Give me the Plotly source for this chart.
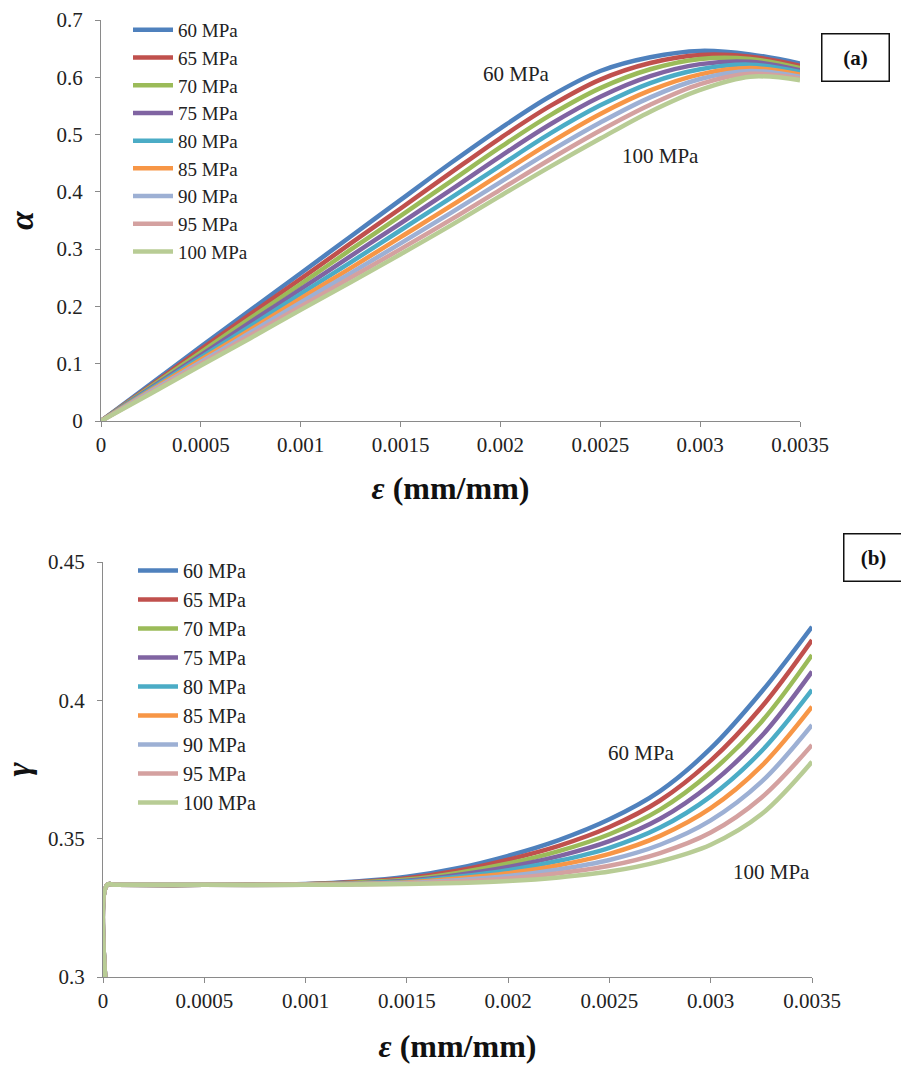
import plotly.graph_objects as go

series_names = ["60 MPa", "65 MPa", "70 MPa", "75 MPa", "80 MPa",
                "85 MPa", "90 MPa", "95 MPa", "100 MPa"]
colors = ["#4F81BD", "#C0504D", "#9BBB59", "#8064A2", "#4BACC6",
          "#F79646", "#9DB0D4", "#D4A1A0", "#B8CC95"]

# (a) alpha vs strain
eps_a = [0, 0.00025, 0.0005, 0.00075, 0.001, 0.00125, 0.0015, 0.00175,
         0.002, 0.00225, 0.0025, 0.00275, 0.003, 0.00325, 0.0035]
alpha_60 = [0, 0.065, 0.130, 0.194, 0.258, 0.322, 0.386, 0.450, 0.511, 0.567, 0.611, 0.635, 0.646, 0.640, 0.624]
alpha_65 = [0, 0.062, 0.125, 0.187, 0.248, 0.310, 0.371, 0.433, 0.494, 0.550, 0.596, 0.625, 0.639, 0.636, 0.620]
alpha_70 = [0, 0.060, 0.120, 0.180, 0.239, 0.299, 0.358, 0.418, 0.478, 0.534, 0.581, 0.614, 0.632, 0.632, 0.616]
alpha_75 = [0, 0.058, 0.115, 0.173, 0.230, 0.288, 0.345, 0.403, 0.462, 0.518, 0.566, 0.602, 0.623, 0.627, 0.612]
alpha_80 = [0, 0.056, 0.111, 0.166, 0.222, 0.277, 0.333, 0.389, 0.446, 0.502, 0.551, 0.590, 0.614, 0.622, 0.609]
alpha_85 = [0, 0.054, 0.107, 0.160, 0.214, 0.267, 0.321, 0.375, 0.431, 0.486, 0.536, 0.577, 0.605, 0.616, 0.605]
alpha_90 = [0, 0.052, 0.103, 0.155, 0.207, 0.258, 0.310, 0.363, 0.417, 0.471, 0.521, 0.565, 0.597, 0.611, 0.601]
alpha_95 = [0, 0.050, 0.100, 0.150, 0.200, 0.250, 0.300, 0.351, 0.404, 0.457, 0.507, 0.552, 0.588, 0.606, 0.598]
alpha_100 = [0, 0.048, 0.097, 0.145, 0.194, 0.242, 0.291, 0.341, 0.393, 0.444, 0.493, 0.540, 0.578, 0.601, 0.595]
alphas = [alpha_60, alpha_65, alpha_70, alpha_75, alpha_80,
          alpha_85, alpha_90, alpha_95, alpha_100]

# (b) gamma vs strain
eps_b = [0.00002, 0.00002, 0.00006, 0.0005, 0.001, 0.00125, 0.0015, 0.00175,
         0.002, 0.00225, 0.0025, 0.00275, 0.003, 0.00325, 0.0035]
gamma_60 = [0.29, 0.3333, 0.3333, 0.3333, 0.3336, 0.3345, 0.3362, 0.3393, 0.3438, 0.3495, 0.3570, 0.3672, 0.3826, 0.4030, 0.4266]
gamma_65 = [0.29, 0.3333, 0.3333, 0.3333, 0.3335, 0.3343, 0.3357, 0.3384, 0.3424, 0.3474, 0.3542, 0.3638, 0.3782, 0.3975, 0.4218]
gamma_70 = [0.29, 0.3333, 0.3333, 0.3333, 0.3335, 0.3341, 0.3352, 0.3376, 0.3410, 0.3455, 0.3516, 0.3605, 0.3740, 0.3922, 0.4164]
gamma_75 = [0.29, 0.3333, 0.3333, 0.3333, 0.3334, 0.3339, 0.3348, 0.3369, 0.3398, 0.3437, 0.3491, 0.3572, 0.3697, 0.3870, 0.4104]
gamma_80 = [0.29, 0.3333, 0.3333, 0.3333, 0.3334, 0.3338, 0.3345, 0.3362, 0.3386, 0.3420, 0.3467, 0.3540, 0.3653, 0.3816, 0.4038]
gamma_85 = [0.29, 0.3333, 0.3333, 0.3333, 0.3334, 0.3337, 0.3342, 0.3356, 0.3375, 0.3404, 0.3445, 0.3510, 0.3610, 0.3762, 0.3977]
gamma_90 = [0.29, 0.3333, 0.3333, 0.3333, 0.3333, 0.3336, 0.3340, 0.3350, 0.3365, 0.3389, 0.3423, 0.3478, 0.3566, 0.3705, 0.3911]
gamma_95 = [0.29, 0.3333, 0.3333, 0.3333, 0.3333, 0.3335, 0.3338, 0.3345, 0.3356, 0.3375, 0.3402, 0.3448, 0.3522, 0.3648, 0.3839]
gamma_100 = [0.29, 0.3333, 0.3333, 0.3333, 0.3333, 0.3334, 0.3336, 0.3340, 0.3347, 0.3360, 0.3381, 0.3418, 0.3478, 0.3588, 0.3778]
gammas = [gamma_60, gamma_65, gamma_70, gamma_75, gamma_80,
          gamma_85, gamma_90, gamma_95, gamma_100]

x_tickvals = [0, 0.0005, 0.001, 0.0015, 0.002, 0.0025, 0.003, 0.0035]
x_ticktext = ["0", "0.0005", "0.001", "0.0015", "0.002", "0.0025", "0.003", "0.0035"]
ya_tickvals = [0, 0.1, 0.2, 0.3, 0.4, 0.5, 0.6, 0.7]
ya_ticktext = ["0", "0.1", "0.2", "0.3", "0.4", "0.5", "0.6", "0.7"]
yb_tickvals = [0.3, 0.35, 0.4, 0.45]
yb_ticktext = ["0.3", "0.35", "0.4", "0.45"]

FONT = "Liberation Serif, Times New Roman, Times, serif"
AXC = "#8a8a8a"

fig = go.Figure()
for name, col, ys in zip(series_names, colors, alphas):
    fig.add_trace(go.Scatter(x=eps_a, y=ys, name=name, mode="lines",
                             line=dict(color=col, width=4.5, shape="spline", smoothing=1),
                             xaxis="x", yaxis="y", legend="legend"))
for name, col, ys in zip(series_names, colors, gammas):
    fig.add_trace(go.Scatter(x=eps_b, y=ys, name=name, mode="lines",
                             line=dict(color=col, width=4.5, shape="spline", smoothing=1),
                             xaxis="x2", yaxis="y2", legend="legend2"))

axis_common = dict(showline=True, linecolor=AXC, linewidth=1, showgrid=False,
                   zeroline=False, ticks="outside", ticklen=5, tickcolor=AXC,
                   automargin=False,
                   tickfont=dict(family=FONT, size=21, color="#222"))

title_x = "<b><i>ε</i> (mm/mm)</b>"

fig.update_layout(
    template="none",
    font=dict(family=FONT),
    width=901, height=1065,
    margin=dict(l=0, r=0, t=0, b=0, autoexpand=False),
    paper_bgcolor="white", plot_bgcolor="white",
    showlegend=True,
    xaxis=dict(domain=[101/901, 800/901], range=[0, 0.0035], anchor="y",
               tickvals=x_tickvals, ticktext=x_ticktext,
               title=dict(text=title_x, font=dict(family=FONT, size=32, color="#111"), standoff=20),
               **axis_common),
    yaxis=dict(domain=[1-421/1065, 1-20/1065], range=[0, 0.7], anchor="x",
               tickvals=ya_tickvals, ticktext=ya_ticktext, ticklabelstandoff=8,
               title=dict(text="<b><i>α</i></b>", font=dict(family=FONT, size=34, color="#111"), standoff=12),
               **axis_common),
    xaxis2=dict(domain=[103/901, 812/901], range=[0, 0.0035], anchor="y2",
                tickvals=x_tickvals, ticktext=x_ticktext,
                title=dict(text=title_x, font=dict(family=FONT, size=32, color="#111"), standoff=22),
                **axis_common),
    yaxis2=dict(domain=[1-977/1065, 1-562/1065], range=[0.3, 0.45], anchor="x2",
                tickvals=yb_tickvals, ticktext=yb_ticktext, ticklabelstandoff=8,
                title=dict(text="<b><i>γ</i></b>", font=dict(family=FONT, size=34, color="#111"), standoff=12),
                **axis_common),
    legend=dict(x=128/901, y=1-11/1065, xanchor="left", yanchor="top",
                font=dict(family=FONT, size=19, color="#222"),
                bgcolor="rgba(0,0,0,0)", itemwidth=40),
    legend2=dict(x=133/901, y=1-551/1065, xanchor="left", yanchor="top",
                 font=dict(family=FONT, size=20, color="#222"),
                 bgcolor="rgba(0,0,0,0)", itemwidth=40),
    annotations=[
        dict(text="60 MPa", x=0.00226, y=0.605, xref="x", yref="y", xanchor="right",
             showarrow=False, font=dict(family=FONT, size=21, color="#222")),
        dict(text="100 MPa", x=0.002799, y=0.462, xref="x", yref="y", showarrow=False,
             font=dict(family=FONT, size=21, color="#222")),
        dict(text="60 MPa", x=0.002658, y=0.381, xref="x2", yref="y2", showarrow=False,
             font=dict(family=FONT, size=21, color="#222")),
        dict(text="100 MPa", x=0.003302, y=0.338, xref="x2", yref="y2", showarrow=False,
             font=dict(family=FONT, size=21, color="#222")),
        dict(text="<b>(a)</b>", x=855/901, y=1-58/1065, xref="paper", yref="paper",
             xanchor="center", yanchor="middle",
             showarrow=False, width=64, height=44, bordercolor="#111", borderwidth=1.5,
             borderpad=1, font=dict(family=FONT, size=21, color="#111")),
        dict(text="<b>(b)</b>", x=873/901, y=1-557/1065, xref="paper", yref="paper",
             xanchor="center", yanchor="middle",
             showarrow=False, width=56, height=44, bordercolor="#111", borderwidth=1.5,
             borderpad=1, font=dict(family=FONT, size=21, color="#111")),
    ],
)

fig.write_html("out.html")
